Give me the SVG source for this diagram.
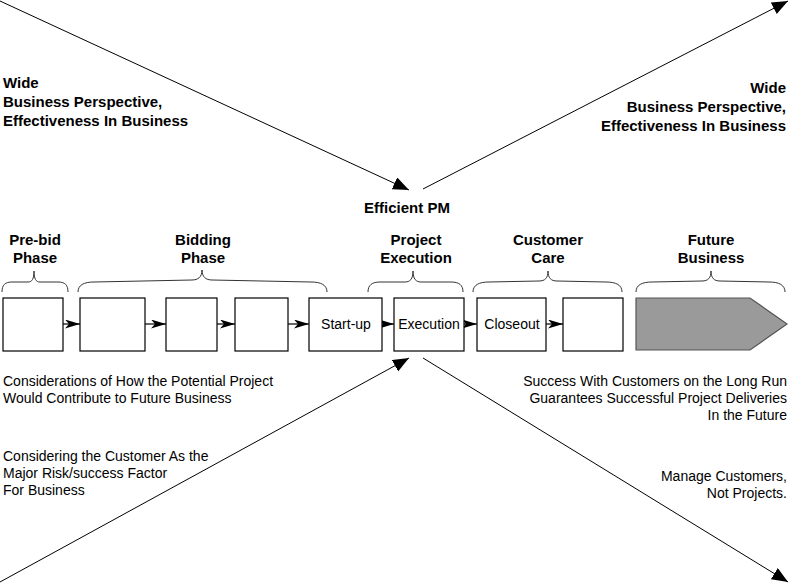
<svg xmlns="http://www.w3.org/2000/svg" width="790" height="583" viewBox="0 0 790 583">
<style>
text{font-family:"Liberation Sans",Arial,sans-serif;fill:#000}
.b{font-weight:bold;font-size:15px}
.r{font-size:14px}
.m{text-anchor:middle}
.e{text-anchor:end}
.box{fill:#fff;stroke:#000;stroke-width:1.2}
.big{stroke:#000;stroke-width:1;fill:none;marker-end:url(#tri)}
.sm{stroke:#000;stroke-width:1.2;fill:none;marker-end:url(#stealth)}
.brace{fill:none;stroke:#333;stroke-width:1}
</style>
<defs>
<marker id="tri" markerUnits="userSpaceOnUse" markerWidth="18" markerHeight="14" refX="16" refY="6.5" orient="auto" viewBox="0 0 18 14">
<path d="M0,0 L16,6.5 L0,13 z" fill="#000"/>
</marker>
<marker id="stealth" markerUnits="userSpaceOnUse" markerWidth="16" markerHeight="10" refX="15" refY="4.5" orient="auto" viewBox="0 0 16 10">
<path d="M0,0 L15,4.5 L0,9 L4,4.5 z" fill="#000"/>
</marker>
</defs>

<g id="connectors">
<path class="big" d="M0,1 L409,190"/>
<path class="big" d="M423,189 L788,1"/>
<path class="big" d="M0,582 L409,358"/>
<path class="big" d="M423,358 L788,582"/>
<path class="sm" d="M63,324 L80,324"/>
<path class="sm" d="M145,324 L166,324"/>
<path class="sm" d="M217,324 L235,324"/>
<path class="sm" d="M288,324 L309,324"/>
<path class="sm" d="M382,324 L394,324"/>
<path class="sm" d="M464,324 L477,324"/>
<path class="sm" d="M546,324 L563,324"/>
</g>

<g id="braces">
<path class="brace" d="M2,292 C2,285 5,282 12,282 L28,282 C32,282 34,279 34,271 C34,279 36,282 40,282 L58,282 C65,282 68,285 68,292"/>
<path class="brace" d="M78,292 C78,285 84,282 94,282 L192,280 C198,280 202,277 202,270 C202,277 206,280 212,280 L311,282 C321,282 327,285 327,292"/>
<path class="brace" d="M368,292 C368,285 372,282 380,282 L405,282 C410,282 413,279 413,271 C413,279 416,282 421,282 L451,282 C459,282 463,285 463,292"/>
<path class="brace" d="M473,292 C473,285 479,282 489,282 L539,281 C545,281 548,278 548,271 C548,278 551,281 557,281 L606,282 C616,282 622,285 622,292"/>
<path class="brace" d="M636,292 C636,285 642,282 652,282 L702,281 C708,281 711,278 711,271 C711,278 714,281 720,281 L769,282 C779,282 785,285 785,292"/>
</g>

<g id="node-prebid"><rect class="box" x="3" y="298" width="60" height="53"/></g>
<g id="node-bid1"><rect class="box" x="80" y="298" width="65" height="53"/></g>
<g id="node-bid2"><rect class="box" x="166" y="298" width="51" height="53"/></g>
<g id="node-bid3"><rect class="box" x="235" y="298" width="53" height="53"/></g>
<g id="node-startup"><rect class="box" x="309" y="298" width="73" height="53"/><text class="r m" x="346" y="329">Start-up</text></g>
<g id="node-execution"><rect class="box" x="394" y="298" width="70" height="53"/><text class="r m" x="429" y="329">Execution</text></g>
<g id="node-closeout"><rect class="box" x="477" y="298" width="69" height="53"/><text class="r m" x="512" y="329">Closeout</text></g>
<g id="node-care2"><rect class="box" x="563" y="298" width="60" height="53"/></g>
<g id="node-future"><path d="M636,298 L750,298 L787,324 L750,350 L636,350 z" fill="#9a9a9a" stroke="#555" stroke-width="1.2"/></g>

<g id="labels">
<text class="b m" x="35" y="245">Pre-bid</text>
<text class="b m" x="35" y="263">Phase</text>
<text class="b m" x="203" y="245">Bidding</text>
<text class="b m" x="203" y="263">Phase</text>
<text class="b m" x="416" y="245">Project</text>
<text class="b m" x="416" y="263">Execution</text>
<text class="b m" x="548" y="245">Customer</text>
<text class="b m" x="548" y="263">Care</text>
<text class="b m" x="711" y="245">Future</text>
<text class="b m" x="711" y="263">Business</text>
<text class="b m" x="407" y="213">Efficient PM</text>

<text class="b" x="3" y="88">Wide</text>
<text class="b" x="3" y="107">Business Perspective,</text>
<text class="b" x="3" y="126">Effectiveness In Business</text>

<text class="b e" x="786" y="93">Wide</text>
<text class="b e" x="786" y="112">Business Perspective,</text>
<text class="b e" x="786" y="131">Effectiveness In Business</text>

<text class="r" x="3" y="386">Considerations of How the Potential Project</text>
<text class="r" x="3" y="403">Would Contribute to Future Business</text>

<text class="r" x="3" y="461">Considering the Customer As the</text>
<text class="r" x="3" y="478">Major Risk/success Factor</text>
<text class="r" x="3" y="495">For Business</text>

<text class="r e" x="787" y="386">Success With Customers on the Long Run</text>
<text class="r e" x="787" y="403">Guarantees Successful Project Deliveries</text>
<text class="r e" x="787" y="420">In the Future</text>

<text class="r e" x="787" y="481">Manage Customers,</text>
<text class="r e" x="787" y="498">Not Projects.</text>
</g>
</svg>
